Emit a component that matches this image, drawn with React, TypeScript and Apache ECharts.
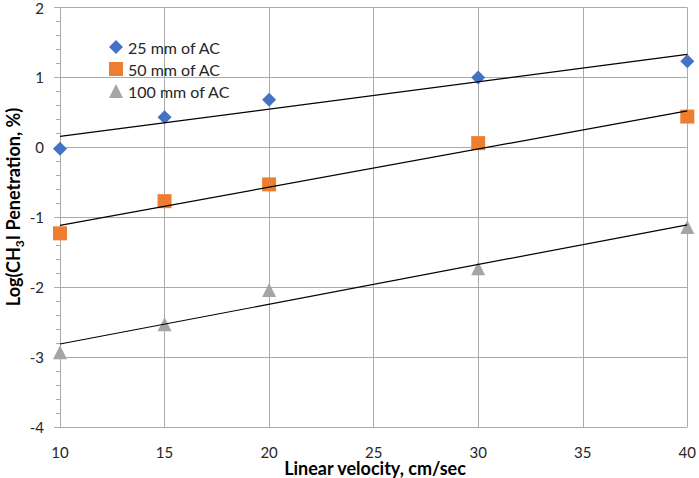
import React, { useEffect, useRef } from "react";
import * as echarts from "echarts";

const velocities = [10, 15, 20, 30, 40];
const ac25 = [-0.02, 0.43, 0.68, 1.0, 1.23];
const ac50 = [-1.23, -0.77, -0.53, 0.06, 0.44];
const ac100 = [-2.93, -2.53, -2.04, -1.73, -1.14];
const seriesNames = ["25 mm of AC", "50 mm of AC", "100 mm of AC"];
const colors = ["#4472C4", "#ED7D31", "#A5A5A5"];
const symbols = ["diamond", "rect", "triangle"];
const symbolSizes = [14, 14, 14];
const xTitle = "Linear velocity, cm/sec";

function fit(xs: number[], ys: number[]) {
  const n = xs.length;
  const mx = xs.reduce((a, b) => a + b, 0) / n;
  const my = ys.reduce((a, b) => a + b, 0) / n;
  let sxy = 0;
  let sxx = 0;
  for (let i = 0; i < n; i++) {
    sxy += (xs[i] - mx) * (ys[i] - my);
    sxx += (xs[i] - mx) * (xs[i] - mx);
  }
  const b = sxy / sxx;
  const a = my - b * mx;
  const x0 = Math.min(...xs);
  const x1 = Math.max(...xs);
  return [
    [x0, a + b * x0],
    [x1, a + b * x1],
  ];
}

const FONT = "Lato";
const GRID = "#ABABAB";

export default function App() {
  const ref = useRef<HTMLDivElement>(null);
  useEffect(() => {
    document.body.style.margin = "0";
    const chart = echarts.init(ref.current!, undefined, { renderer: "svg" });
    const all = [ac25, ac50, ac100];
    const scatter = all.map((ys, i) => ({
      name: seriesNames[i],
      type: "scatter",
      symbol: symbols[i],
      symbolSize: symbolSizes[i],
      itemStyle: { color: colors[i], opacity: 1 },
      data: velocities.map((v, j) => [v, ys[j]]),
      z: 2,
    }));
    const trends = all.map((ys) => ({
      type: "line",
      data: fit(velocities, ys),
      symbol: "none",
      lineStyle: { color: "#000", width: 1.2 },
      z: 3,
      silent: true,
    }));
    chart.setOption({
      animation: false,
      textStyle: { fontFamily: FONT },
      grid: { left: 60, right: 9, top: 7, bottom: 51 },
      legend: {
        orient: "vertical",
        left: 104,
        top: 34,
        itemGap: 6,
        itemWidth: 14,
        itemHeight: 14,
        data: seriesNames,
        textStyle: { fontFamily: FONT, fontSize: 16, color: "#262626" },
      },
      xAxis: {
        type: "value",
        min: 10,
        max: 40,
        interval: 5,
        axisLine: { show: true, lineStyle: { color: GRID, width: 1 } },
        axisTick: { show: false },
        splitLine: { show: true, lineStyle: { color: GRID, width: 1 } },
        axisLabel: { fontFamily: FONT, fontSize: 15, color: "#262626", margin: 17 },
      },
      yAxis: {
        type: "value",
        min: -4,
        max: 2,
        interval: 1,
        axisLine: { show: true, lineStyle: { color: GRID, width: 1 } },
        axisTick: { show: true, length: 6, lineStyle: { color: GRID } },
        minorTick: { show: true, splitNumber: 5, length: 4, lineStyle: { color: GRID } },
        splitLine: { show: true, lineStyle: { color: GRID, width: 1 } },
        axisLabel: { fontFamily: FONT, fontSize: 15, color: "#262626", margin: 16 },
      },
      graphic: [
        {
          type: "text",
          x: 375,
          y: 468,
          style: {
            text: xTitle,
            font: `bold 18px ${FONT}`,
            fill: "#000",
            align: "center",
            verticalAlign: "middle",
          },
        },
        {
          type: "text",
          x: 13,
          y: 207,
          rotation: Math.PI / 2,
          style: {
            text: "{a|Log(CH}{s|3}{a|I Penetration, %)}",
            align: "center",
            verticalAlign: "middle",
            rich: {
              a: { fontFamily: FONT, fontSize: 18, fontWeight: "bold", fill: "#000", color: "#000", lineHeight: 24, verticalAlign: "middle" },
              s: { fontFamily: FONT, fontSize: 12, fontWeight: "bold", fill: "#000", color: "#000", lineHeight: 12, verticalAlign: "bottom" },
            },
          },
        },
      ],
      series: [...scatter, ...trends],
    });
    return () => chart.dispose();
  }, []);
  return <div ref={ref} style={{ width: 699, height: 478 }} />;
}
